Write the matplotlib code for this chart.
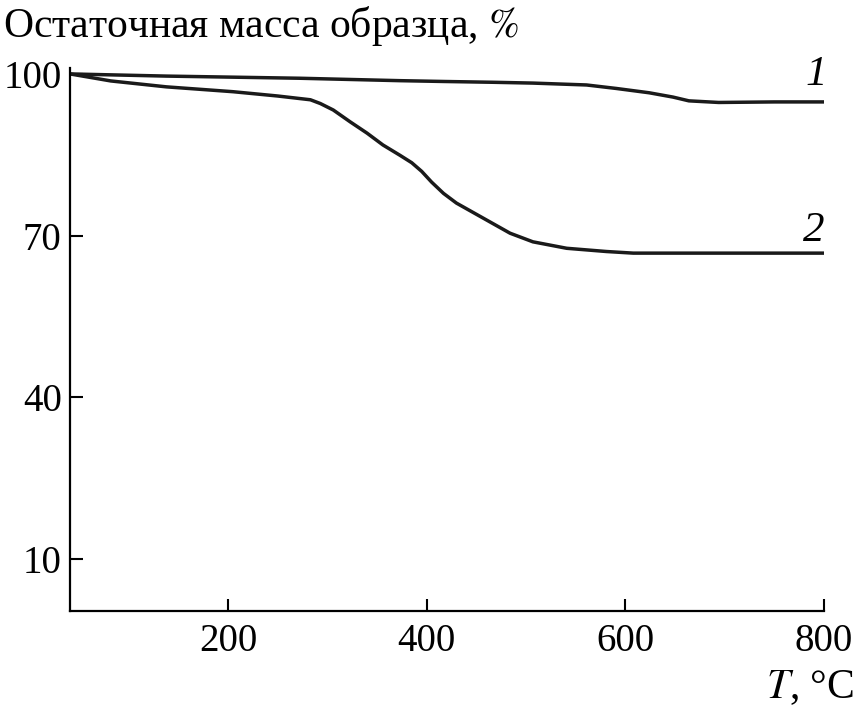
import matplotlib.pyplot as plt

plt.rcParams['font.family'] = ['Liberation Serif', 'DejaVu Serif']
plt.rcParams['mathtext.fontset'] = 'stix'

# curve 1
t1 = [41, 138, 272, 373, 417, 467, 507, 561, 591, 624, 648, 664, 694, 750, 800]
m1 = [100.1, 99.7, 99.3, 98.85, 98.7, 98.55, 98.4, 98.05, 97.4, 96.6, 95.8, 95.1, 94.8, 94.9, 94.9]

# curve 2
t2 = [41, 82, 138, 205, 250, 283, 293, 306, 323, 340, 356, 373, 385, 395, 405, 417, 430,
      457, 484, 507, 541, 581, 608, 700, 800]
m2 = [100.1, 98.8, 97.7, 96.8, 96.0, 95.3, 94.6, 93.4, 91.2, 89.1, 86.9, 85.0, 83.6, 82.0, 80.0, 77.9, 76.1,
      73.3, 70.5, 68.9, 67.7, 67.1, 66.8, 66.8, 66.8]

xticks = [200, 400, 600, 800]
yticks = [10, 40, 70, 100]

fig = plt.figure(figsize=(8.55, 7.13), dpi=100)
ax = fig.add_axes([0.0819, 0.1431, 0.8818, 0.7615])

ax.plot(t1, m1, color='#1a1a1a', linewidth=2.5)
ax.plot(t2, m2, color='#1a1a1a', linewidth=2.5)

ax.set_xlim(41, 800)
ax.set_ylim(0.3, 101.2)
ax.set_xticks(xticks)
ax.set_yticks(yticks)
ax.tick_params(direction='in', length=9, width=1.5, labelsize=28, pad=6)
ax.tick_params(axis='x', pad=9)

for s in ['top', 'right']:
    ax.spines[s].set_visible(False)
for s in ['left', 'bottom']:
    ax.spines[s].set_linewidth(1.6)

ax.text(792, 96.3, '1', fontsize=31, style='italic', ha='center', va='bottom')
ax.text(790, 67.4, '2', fontsize=31, style='italic', ha='center', va='bottom')

fig.text(0.004, 0.963, 'Остаточная масса образца, $\\it{\\%}$', fontsize=30,
         ha='left', va='center')
fig.text(0.999, 0.036, '$\\it{T}$, °C', fontsize=30, ha='right', va='center')

fig.savefig('out.png', dpi=100)
